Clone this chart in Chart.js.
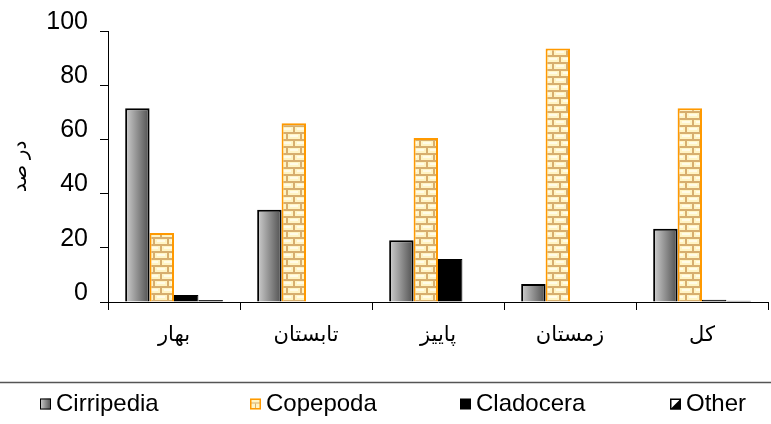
<!DOCTYPE html>
<html>
<head>
<meta charset="utf-8">
<script src="https://cdn.jsdelivr.net/npm/chart.js@4/dist/chart.umd.min.js"></script>
<style>
  html, body { margin: 0; padding: 0; background: #fff; }
  #wrap { width: 771px; height: 424px; position: relative; }
</style>
</head>
<body>
<div id="wrap"><canvas id="c" width="771" height="424"></canvas></div>
<script>
// Seasons (categories) and percentage share of each zooplankton group
const seasons = ['بهار', 'تابستان', 'پاییز', 'زمستان', 'کل'];
const cirripedia = [71.5, 34, 22.8, 6.6, 27];
const copepoda = [25.5, 66, 60.5, 93.5, 71.5];
const cladocera = [2.6, 0, 15.9, 0, 0.8];
const other = [0.7, 0, 0, 0, 0.5];
const yTicks = [0, 20, 40, 60, 80, 100];
const seriesNames = ['Cirripedia', 'Copepoda', 'Cladocera', 'Other'];
const yTitle = 'در صد';

const FONT = "'Liberation Sans', Arial, 'DejaVu Sans', sans-serif";

// Brick fill for Copepoda
function brickPattern() {
  const t = document.createElement('canvas');
  t.width = 14; t.height = 14;
  const g = t.getContext('2d');
  g.fillStyle = '#d7ae6e';
  g.fillRect(0, 0, 14, 14);
  g.fillStyle = '#fff4c4';
  // row 1
  g.fillRect(1, 1, 12, 5);
  g.fillRect(1 - 14, 1, 12, 5);
  // row 2, offset by half a brick
  g.fillRect(8, 8, 12, 5);
  g.fillRect(8 - 14, 8, 12, 5);
  g.fillStyle = '#fffbe8';
  g.fillRect(3, 2, 8, 2);
  g.fillRect(10, 9, 4, 2);
  g.fillRect(0, 9, 4, 2);
  return g.createPattern(t, 'repeat');
}

function grayGradient(ctx, x0, x1) {
  const gr = ctx.createLinearGradient(x0, 0, x1, 0);
  gr.addColorStop(0, '#cfcfcf');
  gr.addColorStop(1, '#4f4f4f');
  return gr;
}

const canvas = document.getElementById('c');
const bricks = brickPattern();

// Gives each Cirripedia bar its own left-to-right shading
const barShading = {
  id: 'barShading',
  beforeDatasetsDraw(chart) {
    const meta = chart.getDatasetMeta(0);
    meta.data.forEach(el => {
      const half = el.width / 2;
      el.options.backgroundColor = grayGradient(chart.ctx, el.x - half, el.x + half);
    });
  }
};

// Legend under a separator line, items evenly spread across the width
const bottomLegend = {
  id: 'bottomLegend',
  afterDraw(chart) {
    const c = chart.ctx;
    c.save();
    c.strokeStyle = '#555';
    c.lineWidth = 1.5;
    c.beginPath();
    c.moveTo(0, 382.5);
    c.lineTo(771, 382.5);
    c.stroke();
    const startX = 40, step = 210, cy = 404, box = 11;
    chart.data.datasets.forEach((ds, i) => {
      const bx = startX + i * step, by = cy - box / 2;
      if (i === 0) {
        c.fillStyle = grayGradient(c, bx, bx + box);
        c.fillRect(bx, by, box, box);
        c.strokeStyle = '#000'; c.lineWidth = 1;
        c.strokeRect(bx + 0.5, by + 0.5, box - 1, box - 1);
      } else if (i === 1) {
        c.fillStyle = '#fff4c4';
        c.fillRect(bx, by, box, box);
        c.fillStyle = '#d7ae6e';
        c.fillRect(bx + 1, by + 4, box - 2, 1);
        c.fillRect(bx + 5, by + 5, 1, box - 6);
        c.strokeStyle = '#ff9900'; c.lineWidth = 1.5;
        c.strokeRect(bx + 0.75, by + 0.75, box - 1.5, box - 1.5);
      } else if (i === 2) {
        c.fillStyle = '#000';
        c.fillRect(bx, by, box, box);
      } else {
        c.fillStyle = '#fff';
        c.fillRect(bx, by, box, box);
        c.fillStyle = '#000';
        c.beginPath();
        c.moveTo(bx + box, by);
        c.lineTo(bx + box, by + box);
        c.lineTo(bx, by + box);
        c.closePath();
        c.fill();
        c.strokeStyle = '#000'; c.lineWidth = 1.5;
        c.strokeRect(bx + 0.75, by + 0.75, box - 1.5, box - 1.5);
      }
      c.fillStyle = '#000';
      c.font = '24px ' + FONT;
      c.textBaseline = 'middle';
      c.textAlign = 'left';
      c.fillText(ds.label, bx + box + 5, cy);
    });
    c.restore();
  }
};

new Chart(canvas, {
  type: 'bar',
  data: {
    labels: seasons,
    datasets: [
      { label: seriesNames[0], data: cirripedia, backgroundColor: () => '#888',
        borderColor: '#000', borderWidth: 2 },
      { label: seriesNames[1], data: copepoda, backgroundColor: bricks,
        borderColor: '#ff9900', borderWidth: 2 },
      { label: seriesNames[2], data: cladocera, backgroundColor: '#000',
        borderColor: '#000', borderWidth: 1 },
      { label: seriesNames[3], data: other, backgroundColor: '#000',
        borderColor: '#000', borderWidth: 1 }
    ]
  },
  options: {
    responsive: false,
    animation: false,
    events: [],
    layout: { padding: { top: 31, right: 3, bottom: 0, left: 0 } },
    datasets: { bar: { categoryPercentage: 0.74, barPercentage: 1 } },
    plugins: {
      legend: { display: false },
      tooltip: { enabled: false }
    },
    scales: {
      x: {
        grid: { display: true, drawOnChartArea: false, drawTicks: true, tickLength: 8,
                color: '#000', lineWidth: 1, offset: true },
        border: { display: true, color: '#000', width: 1 },
        ticks: { color: '#000', font: { family: FONT, size: 21 }, padding: 13 },
        afterFit(s) { s.height = 122; }
      },
      y: {
        min: 0, max: 100,
        afterBuildTicks(s) { s.ticks = yTicks.map(v => ({ value: v })); },
        grid: { display: true, drawOnChartArea: false, drawTicks: true, tickLength: 8,
                color: '#000', lineWidth: 1 },
        border: { display: true, color: '#000', width: 1 },
        ticks: { color: '#000', font: { family: FONT, size: 25 }, padding: 12, labelOffset: -9 },
        title: { display: true, text: yTitle, color: '#000',
                 font: { family: FONT, size: 20 }, padding: { top: 8, bottom: 0 } },
        afterFit(s) { s.width = 108; }
      }
    }
  },
  plugins: [barShading, bottomLegend]
});
</script>
</body>
</html>
